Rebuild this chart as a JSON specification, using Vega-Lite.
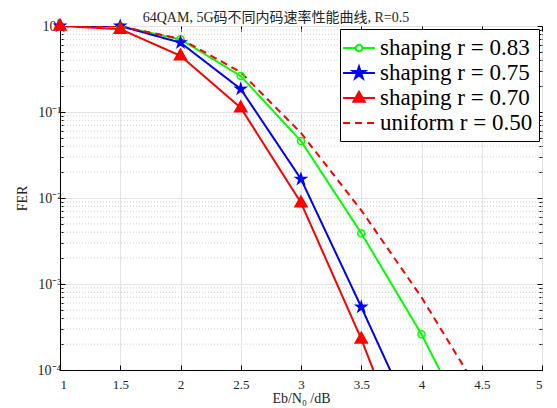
{
  "$schema": "https://vega.github.io/schema/vega-lite/v6.json",
  "width": 482,
  "height": 344,
  "autosize": {"type": "none"},
  "padding": {"left": 60, "top": 26, "right": 15, "bottom": 38},
  "background": "white",
  "title": {
    "text": "64QAM, 5G码不同内码速率性能曲线, R=0.5",
    "font": "Liberation Serif, Noto Sans CJK SC",
    "fontSize": 14,
    "fontWeight": "normal",
    "color": "#262626",
    "offset": -9,
    "dx": -25
  },
  "config": {
    "view": {"stroke": "black", "strokeWidth": 1},
    "axis": {
      "labelFont": "Liberation Serif",
      "titleFont": "Liberation Serif",
      "labelFontSize": 13,
      "labelColor": "#262626",
      "titleColor": "#262626",
      "titleFontSize": 14,
      "titleFontWeight": "normal",
      "domainColor": "black",
      "tickColor": "black",
      "gridColor": "#e3e3e3",
      "gridOpacity": 1
    },
    "legend": {
      "labelFont": "Liberation Serif",
      "labelFontSize": 23
    }
  },
  "datasets": {
    "curves": [
      {"s": "shaping r = 0.83", "x": 1, "fer": 1.0},
      {"s": "shaping r = 0.83", "x": 1.5, "fer": 0.99},
      {"s": "shaping r = 0.83", "x": 2, "fer": 0.70},
      {"s": "shaping r = 0.83", "x": 2.5, "fer": 0.262},
      {"s": "shaping r = 0.83", "x": 3, "fer": 0.046},
      {"s": "shaping r = 0.83", "x": 3.5, "fer": 0.0039},
      {"s": "shaping r = 0.83", "x": 4, "fer": 0.00026},
      {"s": "shaping r = 0.83", "x": 4.5, "fer": 0.000011},
      {"s": "shaping r = 0.75", "x": 1, "fer": 1.0},
      {"s": "shaping r = 0.75", "x": 1.5, "fer": 1.0},
      {"s": "shaping r = 0.75", "x": 2, "fer": 0.64},
      {"s": "shaping r = 0.75", "x": 2.5, "fer": 0.185},
      {"s": "shaping r = 0.75", "x": 3, "fer": 0.0166},
      {"s": "shaping r = 0.75", "x": 3.5, "fer": 0.00054},
      {"s": "shaping r = 0.75", "x": 4, "fer": 0.000016},
      {"s": "shaping r = 0.70", "x": 1, "fer": 1.0},
      {"s": "shaping r = 0.70", "x": 1.5, "fer": 0.92},
      {"s": "shaping r = 0.70", "x": 2, "fer": 0.45},
      {"s": "shaping r = 0.70", "x": 2.5, "fer": 0.112},
      {"s": "shaping r = 0.70", "x": 3, "fer": 0.0088},
      {"s": "shaping r = 0.70", "x": 3.5, "fer": 0.00023},
      {"s": "shaping r = 0.70", "x": 4, "fer": 0.0000036},
      {"s": "uniform r = 0.50", "x": 1, "fer": 1.0},
      {"s": "uniform r = 0.50", "x": 1.5, "fer": 0.99},
      {"s": "uniform r = 0.50", "x": 2, "fer": 0.71},
      {"s": "uniform r = 0.50", "x": 2.5, "fer": 0.29},
      {"s": "uniform r = 0.50", "x": 3, "fer": 0.057},
      {"s": "uniform r = 0.50", "x": 3.5, "fer": 0.0072},
      {"s": "uniform r = 0.50", "x": 4, "fer": 0.0007},
      {"s": "uniform r = 0.50", "x": 4.5, "fer": 0.00005}
    ],
    "minor": [
      {"v": 0.0002}, {"v": 0.0003}, {"v": 0.0004}, {"v": 0.0005}, {"v": 0.0006}, {"v": 0.0007}, {"v": 0.0008}, {"v": 0.0009},
      {"v": 0.002}, {"v": 0.003}, {"v": 0.004}, {"v": 0.005}, {"v": 0.006}, {"v": 0.007}, {"v": 0.008}, {"v": 0.009},
      {"v": 0.02}, {"v": 0.03}, {"v": 0.04}, {"v": 0.05}, {"v": 0.06}, {"v": 0.07}, {"v": 0.08}, {"v": 0.09},
      {"v": 0.2}, {"v": 0.3}, {"v": 0.4}, {"v": 0.5}, {"v": 0.6}, {"v": 0.7}, {"v": 0.8}, {"v": 0.9}
    ]
  },
  "resolve": {"axis": {"x": "independent", "y": "independent"}},
  "layer": [
    {
      "data": {"name": "minor"},
      "mark": {"type": "rule", "color": "#d0d0d0", "strokeWidth": 1, "strokeDash": [1, 2]},
      "encoding": {
        "y": {
          "field": "v", "type": "quantitative",
          "scale": {"type": "log", "domain": [0.0001, 1], "nice": false},
          "axis": {
            "orient": "left", "values": [0.0002,0.0003,0.0004,0.0005,0.0006,0.0007,0.0008,0.0009,0.002,0.003,0.004,0.005,0.006,0.007,0.008,0.009,0.02,0.03,0.04,0.05,0.06,0.07,0.08,0.09,0.2,0.3,0.4,0.5,0.6,0.7,0.8,0.9],
            "labels": false, "domain": false, "grid": false, "tickSize": -3, "title": null
          }
        }
      }
    },
    {
      "data": {"name": "curves"},
      "mark": {"type": "line", "strokeWidth": 2, "clip": true},
      "encoding": {
        "x": {
          "field": "x", "type": "quantitative",
          "scale": {"domain": [1, 5], "nice": false},
          "axis": {
            "orient": "bottom", "values": [1, 1.5, 2, 2.5, 3, 3.5, 4, 4.5, 5],
            "format": "~g", "grid": true, "tickSize": -5, "labelPadding": 13,
            "title": "Eb/N₀ /dB", "titlePadding": 0
          }
        },
        "y": {
          "field": "fer", "type": "quantitative",
          "scale": {"type": "log", "domain": [0.0001, 1], "nice": false},
          "axis": {
            "orient": "left", "values": [0.0001, 0.001, 0.01, 0.1, 1],
            "labelExpr": "['10⁻⁴','10⁻³','10⁻²','10⁻¹','10⁰'][round(log(datum.value)/LN10)+4]",
            "grid": true, "tickSize": -5, "labelPadding": 4, "labelFontSize": 14,
            "title": "FER", "titlePadding": 8
          }
        },
        "color": {
          "field": "s", "type": "nominal",
          "scale": {
            "domain": ["shaping r = 0.83", "shaping r = 0.75", "shaping r = 0.70", "uniform r = 0.50"],
            "range": ["#00FF00", "#0000FF", "#FF0000", "#FF0000"]
          },
          "legend": {
            "title": null,
            "orient": "top-right",
            "offset": 3,
            "padding": 6,
            "strokeColor": "black",
            "fillColor": "white",
            "cornerRadius": 0,
            "labelFont": "Liberation Serif",
            "labelFontSize": 23,
            "labelColor": "black",
            "labelLimit": 300,
            "symbolSize": 576,
            "symbolStrokeWidth": 2,
            "labelOffset": 8,
            "rowPadding": 0,
            "encode": {
              "symbols": {
                "update": {
                  "shape": {"signal": "datum.value === 'shaping r = 0.83' ? 'M-1.33,0H-0.27M0.27,0H1.33M0.27,0A0.27,0.27 0 1,1 -0.27,0A0.27,0.27 0 1,1 0.27,0Z' : datum.value === 'shaping r = 0.75' ? 'M-1.33,0H1.33M0,-0.54L0.121,-0.166L0.514,-0.167L0.195,0.064L0.318,0.437L0,0.205L-0.318,0.437L-0.195,0.064L-0.514,-0.167L-0.121,-0.166Z' : datum.value === 'shaping r = 0.70' ? 'M-1.33,0H1.33M0,-0.52L0.47,0.31L-0.47,0.31Z' : 'M-1.33,0H1.33'"},
                  "fill": {"signal": "datum.value === 'shaping r = 0.75' ? '#0000FF' : datum.value === 'shaping r = 0.70' ? '#FF0000' : 'transparent'"},
                  "fillOpacity": {"value": 1}
                }
              }
            }
          }
        },
        "strokeDash": {
          "field": "s", "type": "nominal",
          "scale": {
            "domain": ["shaping r = 0.83", "shaping r = 0.75", "shaping r = 0.70", "uniform r = 0.50"],
            "range": [[1, 0], [1, 0], [1, 0], [7, 5]]
          },
          "legend": null
        }
      }
    },
    {
      "data": {"name": "curves"},
      "transform": [{"filter": "datum.fer >= 0.0001 && datum.s !== 'uniform r = 0.50'"}],
      "mark": {"type": "point", "strokeWidth": 1.5, "opacity": 1, "clip": false},
      "encoding": {
        "x": {
          "field": "x", "type": "quantitative",
          "scale": {"domain": [1, 5], "nice": false},
          "axis": {"orient": "top", "values": [1, 1.5, 2, 2.5, 3, 3.5, 4, 4.5, 5], "labels": false, "domain": false, "grid": false, "tickSize": -5, "title": null}
        },
        "y": {
          "field": "fer", "type": "quantitative",
          "scale": {"type": "log", "domain": [0.0001, 1], "nice": false},
          "axis": {"orient": "right", "values": [0.0001, 0.001, 0.01, 0.1, 1], "labels": false, "domain": false, "grid": false, "tickSize": -5, "title": null}
        },
        "shape": {
          "field": "s", "type": "nominal",
          "scale": {
            "domain": ["shaping r = 0.83", "shaping r = 0.75", "shaping r = 0.70"],
            "range": [
              "circle",
              "M0,-1L0.223,-0.307L0.951,-0.309L0.361,0.117L0.588,0.809L0,0.38L-0.588,0.809L-0.361,0.117L-0.951,-0.309L-0.223,-0.307Z",
              "M0,-1L0.9,0.6L-0.9,0.6Z"
            ]
          },
          "legend": null
        },
        "size": {
          "field": "s", "type": "nominal",
          "scale": {
            "domain": ["shaping r = 0.83", "shaping r = 0.75", "shaping r = 0.70"],
            "range": [50, 180, 150]
          },
          "legend": null
        },
        "stroke": {
          "field": "s", "type": "nominal",
          "scale": {
            "domain": ["shaping r = 0.83", "shaping r = 0.75", "shaping r = 0.70"],
            "range": ["#00FF00", "#0000FF", "#FF0000"]
          },
          "legend": null
        },
        "fill": {
          "field": "s", "type": "nominal",
          "scale": {
            "domain": ["shaping r = 0.83", "shaping r = 0.75", "shaping r = 0.70"],
            "range": ["transparent", "#0000FF", "#FF0000"]
          },
          "legend": null
        }
      }
    },
    {
      "data": {"name": "minor"},
      "mark": {"type": "rule", "opacity": 0},
      "encoding": {
        "y": {
          "field": "v", "type": "quantitative",
          "scale": {"type": "log", "domain": [0.0001, 1], "nice": false},
          "axis": {
            "orient": "right", "values": [0.0002,0.0003,0.0004,0.0005,0.0006,0.0007,0.0008,0.0009,0.002,0.003,0.004,0.005,0.006,0.007,0.008,0.009,0.02,0.03,0.04,0.05,0.06,0.07,0.08,0.09,0.2,0.3,0.4,0.5,0.6,0.7,0.8,0.9],
            "labels": false, "domain": false, "grid": false, "tickSize": -3, "title": null
          }
        }
      }
    }
  ]
}
